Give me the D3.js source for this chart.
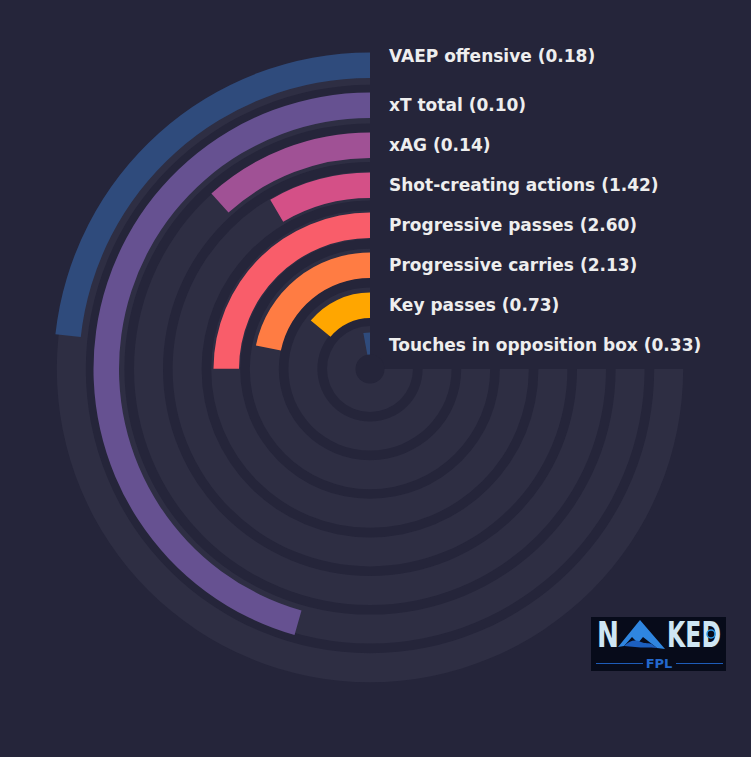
<!DOCTYPE html>
<html>
<head>
<meta charset="utf-8">
<script src="https://cdn.jsdelivr.net/npm/d3@7"></script>
<style>
  body { margin: 0; background: #25253a; }
  svg { display: block; }
</style>
</head>
<body>
<svg width="751" height="757"></svg>
<script>
// innermost ring first
var metrics = ["Touches in opposition box", "Key passes", "Progressive carries", "Progressive passes",
               "Shot-creating actions", "xAG", "xT total", "VAEP offensive"];
var values = [0.33, 0.73, 2.13, 2.60, 1.42, 0.14, 0.10, 0.18];
// how far round the 270 degree track each bar goes (percent)
var percentiles = [3.9, 18.8, 29.0, 33.3, 11.3, 15.6, 60.8, 31.0];
var colors = ["#2f4b7c", "#ffa600", "#ff7c43", "#f95d6a", "#d45087", "#a05195", "#665191", "#2f4b7c"];

var radialChart = {

    bg : "#25253a",
    track : "#2e2e43",
    cx : 370,
    cy : 369,

    show : function() {
        var svg = d3.select("svg");
        svg.append("rect").attr("width", 751).attr("height", 757).attr("fill", radialChart.bg);
        radialChart.rings(svg);
        radialChart.logo(svg);
    },

    rings : function(svg) {
        var angle = d3.scaleLinear().domain([0, 100]).range([0, 1.5 * Math.PI]);
        var rBar = d3.scaleLinear().domain([0, 8]).range([11, 331]);
        var rTrack = d3.scaleLinear().domain([0, 8]).range([14, 322.8]);

        var g = svg.append("g")
            .attr("transform", "translate(" + radialChart.cx + "," + radialChart.cy + ")");

        var trackArc = d3.arc()
            .innerRadius(function(d, i) { return rTrack(i); })
            .outerRadius(function(d, i) { return rTrack(i) + 29; })
            .startAngle(-1.5 * Math.PI)
            .endAngle(0);

        g.selectAll("path.track")
            .data(metrics)
            .enter()
            .append("path")
            .attr("class", "track")
            .attr("d", trackArc)
            .attr("fill", radialChart.track);

        var barArc = d3.arc()
            .innerRadius(function(d, i) { return rBar(i); })
            .outerRadius(function(d, i) { return rBar(i) + 25.5; })
            .startAngle(function(d) { return -angle(d); })
            .endAngle(0);

        g.selectAll("path.bar")
            .data(percentiles)
            .enter()
            .append("path")
            .attr("class", "bar")
            .attr("d", barArc)
            .attr("fill", function(d, i) { return colors[i]; });

        // hole in the middle
        g.append("circle").attr("r", 14.5).attr("fill", radialChart.bg);

        g.selectAll("text.label")
            .data(metrics)
            .enter()
            .append("text")
            .attr("class", "label")
            .attr("x", 19)
            .attr("y", function(d, i) {
                var y = -(rBar(i) + 12.75) - 1.2 + 7;
                if (i == metrics.length - 1) y -= 9;
                return y;
            })
            .style("font-family", "DejaVu Sans")
            .style("font-weight", "bold")
            .style("font-size", "17px")
            .style("fill", "#eeeeee")
            .text(function(d, i) { return d + " (" + values[i].toFixed(2) + ")"; });
    },

    logo : function(svg) {
        var lg = svg.append("g").attr("transform", "translate(591,617)");
        lg.append("rect").attr("width", 135).attr("height", 54).attr("fill", "#070b1a");

        var big = function(t, x, w) {
            lg.append("text")
                .attr("x", x).attr("y", 30)
                .attr("textLength", w).attr("lengthAdjust", "spacingAndGlyphs")
                .style("font-family", "DejaVu Sans")
                .style("font-weight", "bold")
                .style("font-size", "36px")
                .style("fill", "#cfe6f4")
                .text(t);
        };
        big("N", 6, 22);
        big("KED", 76, 54);

        // the mountain in place of the A
        lg.append("path")
            .attr("d", "M27,30 L49,3 L55,10 L74,32 L66,31 L52,20 L47,26 L41,20 L33,29 Z")
            .attr("fill", "#2f86e0");
        lg.append("path")
            .attr("d", "M33,29 C38,24 44,22 50,25 C54,27 58,25 62,28 L66,31 C58,30 52,31 44,30 Z")
            .attr("fill", "#1c5fbf");
        lg.append("circle").attr("cx", 120).attr("cy", 17).attr("r", 4)
            .attr("fill", "#070b1a").attr("stroke", "#2f9ae8").attr("stroke-width", 1.5);

        lg.append("line").attr("x1", 5).attr("x2", 52).attr("y1", 46.5).attr("y2", 46.5)
            .attr("stroke", "#1e5cb8").attr("stroke-width", 1);
        lg.append("line").attr("x1", 85).attr("x2", 132).attr("y1", 46.5).attr("y2", 46.5)
            .attr("stroke", "#1e5cb8").attr("stroke-width", 1);
        lg.append("text")
            .attr("x", 68).attr("y", 51)
            .style("text-anchor", "middle")
            .style("font-family", "DejaVu Sans")
            .style("font-weight", "bold")
            .style("font-size", "13px")
            .style("fill", "#2468cc")
            .text("FPL");
    }
};

radialChart.show();
</script>
</body>
</html>
